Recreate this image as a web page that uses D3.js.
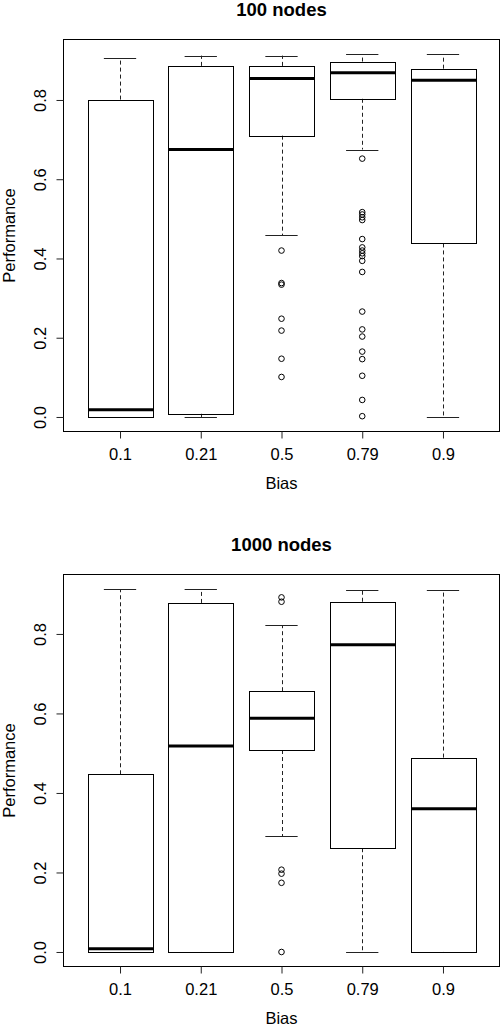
<!DOCTYPE html>
<html>
<head>
<meta charset="utf-8">
<script src="https://cdn.jsdelivr.net/npm/d3@7"></script>
<style>
  body { margin: 0; background: #fff; }
  svg { display: block; font-family: "Liberation Sans", Arial, sans-serif; }
</style>
</head>
<body>
<svg width="502" height="1026"></svg>
<script>
// categories (x axis)
var bias = ["0.1", "0.21", "0.5", "0.79", "0.9"];
var yTicks = [0, 0.2, 0.4, 0.6, 0.8];

// 100 nodes
var lo100 = [0, 0, 0.459, 0.675, 0];
var q1_100 = [0, 0.008, 0.710, 0.803, 0.438];
var med100 = [0.018, 0.675, 0.854, 0.869, 0.850];
var q3_100 = [0.801, 0.886, 0.886, 0.897, 0.879];
var hi100 = [0.907, 0.912, 0.912, 0.916, 0.916];
var out100 = [
    [],
    [],
    [0.420, 0.338, 0.334, 0.248, 0.218, 0.147, 0.101],
    [0.652, 0.517, 0.511, 0.504, 0.497, 0.449, 0.428, 0.420, 0.413, 0.406,
     0.394, 0.366, 0.266, 0.221, 0.203, 0.165, 0.146, 0.104, 0.043, 0.002],
    []
];

// 1000 nodes
var lo1000 = [0, 0, 0.291, 0, 0];
var q1_1000 = [0, 0, 0.508, 0.261, 0];
var med1000 = [0.008, 0.518, 0.588, 0.773, 0.360];
var q3_1000 = [0.447, 0.878, 0.656, 0.881, 0.489];
var hi1000 = [0.913, 0.913, 0.822, 0.910, 0.910];
var out1000 = [
    [],
    [],
    [0.892, 0.881, 0.207, 0.197, 0.174, 0.0],
    [],
    []
];

var svg = d3.select("svg");

// plot region inside each panel
var pLeft = 63.5, pRight = 499.5, pTop = 39.5, pBottom = 431.5;
var fs = 16.5;

function panel(offset, title, lo, q1, med, q3, hi, outs) {
    var g = svg.append("g").attr("transform", "translate(0," + offset + ")");

    var stats = bias.map(function(b, i) {
        return { bias: b, lo: lo[i], q1: q1[i], med: med[i], q3: q3[i], hi: hi[i], out: outs[i] };
    });

    var allVals = [].concat(lo, hi, d3.merge(outs));
    var mn = d3.min(allVals), mx = d3.max(allVals);
    var pad = (mx - mn) * 0.04;

    var x = d3.scalePoint().domain(bias).range([pLeft, pRight]).padding(0.7);
    var y = d3.scaleLinear().domain([mn - pad, mx + pad]).range([pBottom, pTop]);
    var bw = x.step() * 0.8;

    function cx(d) { return Math.round(x(d.bias)) + 0.5; }

    // whiskers (dashed)
    g.append("g")
        .selectAll("line")
        .data(stats)
        .enter()
        .append("line")
        .attr("x1", cx)
        .attr("x2", cx)
        .attr("y1", function(d) { return y(d.q3); })
        .attr("y2", function(d) { return y(d.hi); })
        .attr("stroke", "#222")
        .attr("stroke-dasharray", "4,3");

    g.append("g")
        .selectAll("line")
        .data(stats)
        .enter()
        .append("line")
        .attr("x1", cx)
        .attr("x2", cx)
        .attr("y1", function(d) { return y(d.q1); })
        .attr("y2", function(d) { return y(d.lo); })
        .attr("stroke", "#222")
        .attr("stroke-dasharray", "4,3");

    // staples
    g.append("g")
        .selectAll("line")
        .data(stats.flatMap(function(d) { return [{ bias: d.bias, v: d.hi }, { bias: d.bias, v: d.lo }]; }))
        .enter()
        .append("line")
        .attr("x1", function(d) { return x(d.bias) - bw / 4; })
        .attr("x2", function(d) { return x(d.bias) + bw / 4; })
        .attr("y1", function(d) { return Math.round(y(d.v)) + 0.5; })
        .attr("y2", function(d) { return Math.round(y(d.v)) + 0.5; })
        .attr("stroke", "#222");

    // boxes
    g.append("g")
        .selectAll("rect")
        .data(stats)
        .enter()
        .append("rect")
        .attr("x", function(d) { return Math.round(x(d.bias) - bw / 2) + 0.5; })
        .attr("width", Math.round(bw))
        .attr("y", function(d) { return Math.round(y(d.q3)) + 0.5; })
        .attr("height", function(d) { return Math.round(y(d.q1)) - Math.round(y(d.q3)); })
        .attr("fill", "none")
        .attr("stroke", "#000");

    // medians
    g.append("g")
        .selectAll("line")
        .data(stats)
        .enter()
        .append("line")
        .attr("x1", function(d) { return Math.round(x(d.bias) - bw / 2) + 0.5; })
        .attr("x2", function(d) { return Math.round(x(d.bias) - bw / 2) + 0.5 + Math.round(bw); })
        .attr("y1", function(d) { return y(d.med); })
        .attr("y2", function(d) { return y(d.med); })
        .attr("stroke", "#000")
        .attr("stroke-width", 3);

    // outliers
    g.append("g")
        .selectAll("circle")
        .data(stats.flatMap(function(d) { return d.out.map(function(v) { return { bias: d.bias, v: v }; }); }))
        .enter()
        .append("circle")
        .attr("cx", function(d) { return x(d.bias); })
        .attr("cy", function(d) { return y(d.v); })
        .attr("r", 2.8)
        .attr("fill", "none")
        .attr("stroke", "#000");

    // frame
    g.append("rect")
        .attr("x", pLeft)
        .attr("y", pTop)
        .attr("width", pRight - pLeft)
        .attr("height", pBottom - pTop)
        .attr("fill", "none")
        .attr("stroke", "#000");

    // y axis
    var yAxis = g.append("g")
        .attr("transform", "translate(" + pLeft + ",0)")
        .call(d3.axisLeft(y).tickValues(yTicks).tickSize(7).tickFormat(d3.format(".1f")));
    yAxis.select(".domain").remove();
    yAxis.selectAll("line").attr("stroke", "#222");
    yAxis.selectAll("text")
        .attr("transform", "rotate(-90)")
        .attr("x", 0)
        .attr("y", -18)
        .attr("dy", null)
        .attr("text-anchor", "middle")
        .attr("font-size", fs)
        .attr("fill", "#000");
    yAxis.attr("font-family", null).attr("font-size", null);

    // x axis
    var xAxis = g.append("g")
        .attr("transform", "translate(0," + pBottom + ")")
        .call(d3.axisBottom(x).tickSize(7));
    xAxis.select(".domain").remove();
    xAxis.selectAll("line").attr("stroke", "#222");
    xAxis.selectAll("text")
        .attr("y", 28)
        .attr("dy", null)
        .attr("font-size", fs)
        .attr("fill", "#000");
    xAxis.attr("font-family", null).attr("font-size", null);

    // labels
    g.append("text")
        .attr("x", (pLeft + pRight) / 2)
        .attr("y", 15.5)
        .attr("text-anchor", "middle")
        .attr("font-size", 18.5)
        .attr("font-weight", "bold")
        .text(title);

    g.append("text")
        .attr("x", (pLeft + pRight) / 2)
        .attr("y", pBottom + 57)
        .attr("text-anchor", "middle")
        .attr("font-size", fs)
        .text("Bias");

    g.append("text")
        .attr("transform", "translate(15," + (pTop + pBottom) / 2 + ") rotate(-90)")
        .attr("text-anchor", "middle")
        .attr("font-size", fs)
        .text("Performance");
}

panel(0, "100 nodes", lo100, q1_100, med100, q3_100, hi100, out100);
panel(535, "1000 nodes", lo1000, q1_1000, med1000, q3_1000, hi1000, out1000);
</script>
</body>
</html>
